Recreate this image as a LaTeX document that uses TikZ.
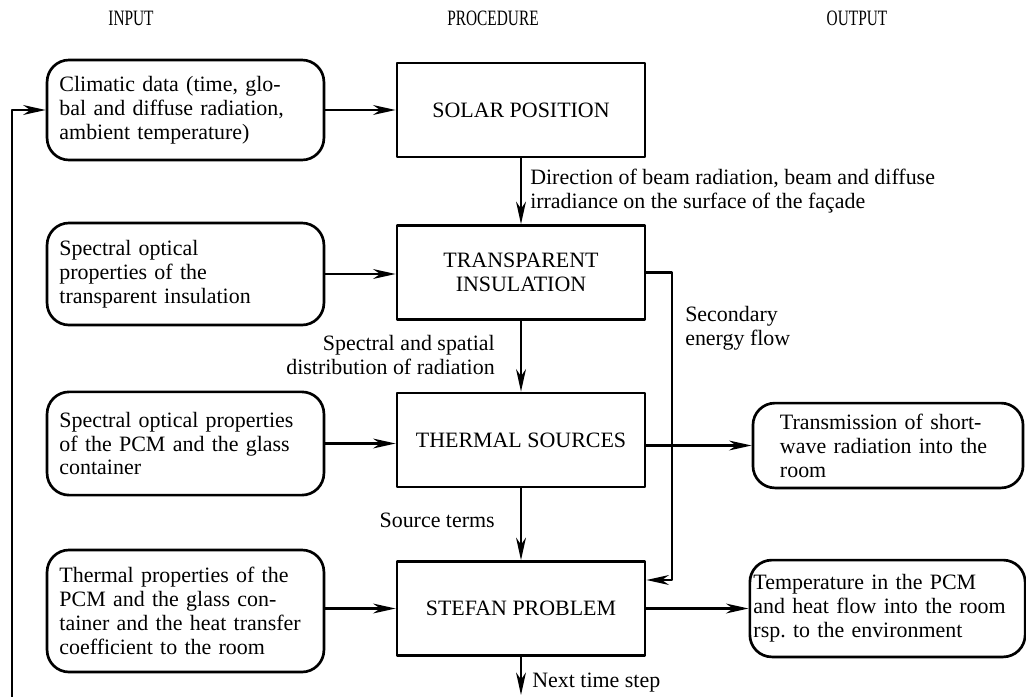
\documentclass[tikz,border=0pt]{standalone}
\usepackage{fontspec}
\setmainfont{Liberation Serif}
\usetikzlibrary{arrows.meta, calc, positioning}
\frenchspacing

\begin{document}
\begin{tikzpicture}[
    x=0.025cm, y=-0.025cm,
    line cap=round,
    line join=round,
    font=\fontsize{15.6pt}{17pt}\selectfont,
    dato/.style      = {draw, line width=1.9pt, rounded corners=0.55cm, minimum width=6.92cm, text width=6.3cm, align=left, inner sep=0pt},
    blocco/.style    = {draw, line width=1.9pt, minimum width=6.2cm, minimum height=2.35cm, align=center, inner sep=0pt},
    risultato/.style = {draw, line width=1.9pt, rounded corners=0.55cm, align=left, inner sep=0pt},
    freccia/.style   = {line width=1.7pt, -{Stealth[length=16pt,width=7pt,inset=5pt]}},
    testo/.style     = {inner sep=0pt},
    titolo/.style    = {inner sep=0pt}
]
\useasboundingbox (0,0) rectangle (1026,697);

% ---- intestazioni ----
\node[titolo] (tin)  at (131,18) {\scalebox{0.7}[1]{INPUT}};
\node[titolo] (tpro) at (493,18) {\scalebox{0.7}[1]{PROCEDURE}};
\node[titolo] (tout) at (857,18) {\scalebox{0.7}[1]{OUTPUT}};

% ---- dati in ingresso ----
\node[dato, minimum height=2.5cm] (clima) at (185.5,110)
    {Climatic data (time, glo-\\bal and diffuse radiation,\\ambient temperature)};
\node[dato, minimum height=2.55cm] (ottica) at (185.5,274)
    {Spectral optical\\properties of the\\transparent insulation};
\node[dato, minimum height=2.58cm] (ottpcm) at (185.5,443.5)
    {Spectral optical properties\\of the PCM and the glass\\container};
\node[dato, minimum height=3.05cm] (termica) at (185.5,611)
    {Thermal properties of the\\PCM and the glass con-\\tainer and the heat transfer\\coefficient to the room};

% ---- procedura ----
\node[blocco] (sole)     at (521,110)   {SOLAR POSITION};
\node[blocco] (isolante) at (521,272.5) {TRANSPARENT\\INSULATION};
\node[blocco] (sorgenti) at (521,440)   {THERMAL SOURCES};
\node[blocco] (stefan)   at (521,608.5) {STEFAN PROBLEM};

% ---- risultati ----
\node[risultato, minimum width=6.75cm, minimum height=2.12cm, text width=5.4cm] (trasm) at (888,445.5)
    {Transmission of short-\\wave radiation into the\\room};
\node[risultato, minimum width=6.88cm, minimum height=2.42cm, text width=6.7cm] (temper) at (887.5,608.5)
    {Temperature in the PCM\\and heat flow into the room\\rsp. to the environment};

% ---- frecce orizzontali ----
\draw[freccia] (clima) -- (sole);
\draw[freccia] (ottica.east) -- (ottica.east -| isolante.west);
\draw[freccia] (ottpcm.east) -- (ottpcm.east -| sorgenti.west);
\draw[freccia] (termica.east |- stefan.west) -- (stefan.west);
\draw[freccia] (sorgenti.east |- trasm.west) -- (trasm.west);
\draw[freccia] (stefan.east |- temper.west) -- (temper.west);

% ---- frecce verticali ----
\draw[freccia] (sole) -- (isolante);
\draw[freccia] (isolante) -- (sorgenti);
\draw[freccia] (sorgenti) -- (stefan);

% ---- flusso secondario ----
\coordinate (gomito) at (672,580);
\draw[freccia] (isolante.east) -| (gomito) -- (gomito -| stefan.east);

% ---- passo successivo e ritorno ----
\coordinate (passo) at (521,695);
\draw[freccia] (stefan) -- (passo);
\coordinate (ritorno) at (12,697);
\draw[freccia] (ritorno) |- (clima.west);

% ---- didascalie ----
\node[testo, anchor=west, align=left] (direzione) at (530,191.5)
    {Direction of beam radiation, beam and diffuse\\irradiance on the surface of the façade};
\node[testo, anchor=east, align=right] (spettrale) at (495,355)
    {Spectral and spatial\\distribution of radiation};
\node[testo, anchor=west, align=left] (secondaria) at (685,328)
    {Secondary\\energy flow};
\node[testo, anchor=east] (termini) at (495,520) {Source terms};
\node[testo, anchor=west] (prossimo) at (532,683) {Next time step};

\end{tikzpicture}
\end{document}
